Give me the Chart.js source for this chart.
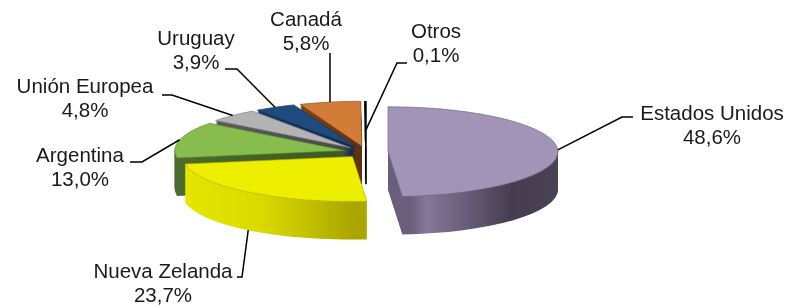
<!DOCTYPE html>
<html>
<head>
<meta charset="utf-8">
<script src="https://cdn.jsdelivr.net/npm/chart.js@4"></script>
<style>
  html, body { margin: 0; padding: 0; background: #fff; }
  #wrap { width: 790px; height: 308px; }
</style>
</head>
<body>
<div id="wrap"><canvas id="pieChart"></canvas></div>
<script>
/* DATOS */
const paises = ['Estados Unidos', 'Nueva Zelanda', 'Argentina', 'Unión Europea', 'Uruguay', 'Canadá', 'Otros'];
const participacion = [48.6, 23.7, 13.0, 4.8, 3.9, 5.8, 0.1];

/* colores: cara superior, borde y pared lateral */
const colorCara = ['#a294b6', '#eeee00', '#87bd4c', '#b3b3b3', '#1f4b80', '#d27c37', '#111111'];
const colorBorde = ['#6f6480', '#b0b000', '#5d8a2f', '#808080', '#143258', '#8e4f1e', '#000000'];
const anchoBorde = [1, 1, 1, 1, 1, 1, 1.6];
const colorPared = [
    [[0, '#6a5e7c'], [0.1, '#85789a'], [0.6, '#453d4f'], [1, '#4d4558']],
    [[0, '#e8e800'], [0.5, '#dada00'], [1, '#aaa600']],
    [[0, '#4f6e2e'], [1, '#3f5a22']],
    [[0, '#5e5e5e'], [1, '#4a4a4a']],
    [[0, '#183a63'], [1, '#122c4c']],
    [[0, '#7d4519'], [1, '#5f3310']],
    [[0, '#000000'], [1, '#000000']]
];

/* posicion de las etiquetas: texto (centro, linea base) y quiebre de la guia */
const posEtiqueta = [
    { tx: 712, ty: 120, codo: [622, 117], fin: [633, 117], fr: 1 },
    { tx: 163, ty: 278, codo: [242, 277], fin: [237, 277], fr: 1, abajo: true },
    { tx: 80, ty: 162, codo: [142, 162], fin: [130, 162], fr: 1 },
    { tx: 85, ty: 93, codo: [172, 95], fin: [162, 95], fr: 1 },
    { tx: 196, ty: 45, codo: [237, 69], fin: [225, 69], fr: 1 },
    { tx: 306, ty: 26, codo: [330, 53], fin: [330, 53], fr: 1 },
    { tx: 436, ty: 38, codo: [397, 63], fin: [407, 63], fr: 0.35 }
];

const RADIO = 170;     // radio horizontal
const ACHATADO = 45 / 170;
const ALTO = 38;       // grosor de la torta
const SEPARAR = 22;    // explosion de porciones

function desp(a) {
    const m = (a.startAngle + a.endAngle) / 2;
    return { x: Math.cos(m) * SEPARAR, y: Math.sin(m) * SEPARAR * ACHATADO };
}

function aplastar(ctx, cy) {
    ctx.translate(0, cy);
    ctx.scale(1, ACHATADO);
    ctx.translate(0, -cy);
}

function fmt(v) {
    return v.toFixed(1).replace('.', ',') + '%';
}

const torta3d = {
    id: 'torta3d',
    beforeDatasetsDraw(chart) {
        const ctx = chart.ctx;
        const arcs = chart.getDatasetMeta(0).data;
        const orden = arcs.map((a, i) => i).sort((p, q) => desp(arcs[p]).y - desp(arcs[q]).y);

        orden.forEach(i => {
            const a = arcs[i];
            const d = desp(a);

            // extension horizontal de la porcion para el degradado
            let xmin = a.x, xmax = a.x;
            for (let s = 0; s <= 40; s++) {
                const ang = a.startAngle + (a.endAngle - a.startAngle) * s / 40;
                const px = a.x + Math.cos(ang) * a.outerRadius;
                xmin = Math.min(xmin, px);
                xmax = Math.max(xmax, px);
            }
            const g = ctx.createLinearGradient(xmin + d.x, 0, xmax + d.x + 0.01, 0);
            colorPared[i].forEach(st => g.addColorStop(st[0], st[1]));

            // pared lateral
            for (let h = ALTO; h > 0; h--) {
                ctx.save();
                ctx.translate(d.x, d.y + h);
                aplastar(ctx, a.y);
                ctx.beginPath();
                ctx.moveTo(a.x, a.y);
                ctx.arc(a.x, a.y, a.outerRadius, a.startAngle, a.endAngle);
                ctx.closePath();
                ctx.fillStyle = g;
                ctx.fill();
                if (i === 6) {
                    // porcion casi nula: se ve como una linea
                    ctx.setTransform(1, 0, 0, 1, 0, 0);
                    ctx.fillStyle = '#000';
                    ctx.fillRect(a.x + d.x - 1, a.y + d.y + h - 1, 2, 1);
                }
                ctx.restore();
            }

            // cara superior
            ctx.save();
            ctx.translate(d.x, d.y);
            aplastar(ctx, a.y);
            a.draw(ctx);
            ctx.restore();
        });
        return false;
    }
};

const etiquetas = {
    id: 'etiquetas',
    afterDraw(chart) {
        const ctx = chart.ctx;
        const arcs = chart.getDatasetMeta(0).data;
        ctx.save();
        ctx.font = '20.5px "Liberation Sans", Arial, sans-serif';
        ctx.fillStyle = '#1a1a1a';
        ctx.textAlign = 'center';
        ctx.textBaseline = 'alphabetic';
        ctx.strokeStyle = '#000';
        ctx.lineWidth = 1.5;
        arcs.forEach((a, i) => {
            const p = posEtiqueta[i];
            ctx.fillText(paises[i], p.tx, p.ty);
            ctx.fillText(fmt(participacion[i]), p.tx, p.ty + 24);

            const d = desp(a);
            const m = (a.startAngle + a.endAngle) / 2;
            const r = a.outerRadius * p.fr;
            const ex = a.x + d.x + Math.cos(m) * r;
            const ey = a.y + d.y + Math.sin(m) * r * ACHATADO + (p.abajo ? ALTO : 0);
            ctx.beginPath();
            ctx.moveTo(ex, ey);
            ctx.lineTo(p.codo[0], p.codo[1]);
            ctx.lineTo(p.fin[0], p.fin[1]);
            ctx.stroke();
        });
        ctx.restore();
    }
};

new Chart(document.getElementById('pieChart'), {
    type: 'pie',
    data: {
        labels: paises,
        datasets: [{
            data: participacion,
            backgroundColor: colorCara,
            borderColor: colorBorde,
            borderWidth: anchoBorde,
            borderJoinStyle: 'bevel',
            radius: RADIO,
            clip: false
        }]
    },
    options: {
        responsive: true,
        maintainAspectRatio: false,
        animation: false,
        events: [],
        layout: { padding: { left: 0, right: 58, top: 0, bottom: 4 } },
        plugins: {
            legend: { display: false },
            tooltip: { enabled: false }
        }
    },
    plugins: [torta3d, etiquetas]
});
</script>
</body>
</html>
